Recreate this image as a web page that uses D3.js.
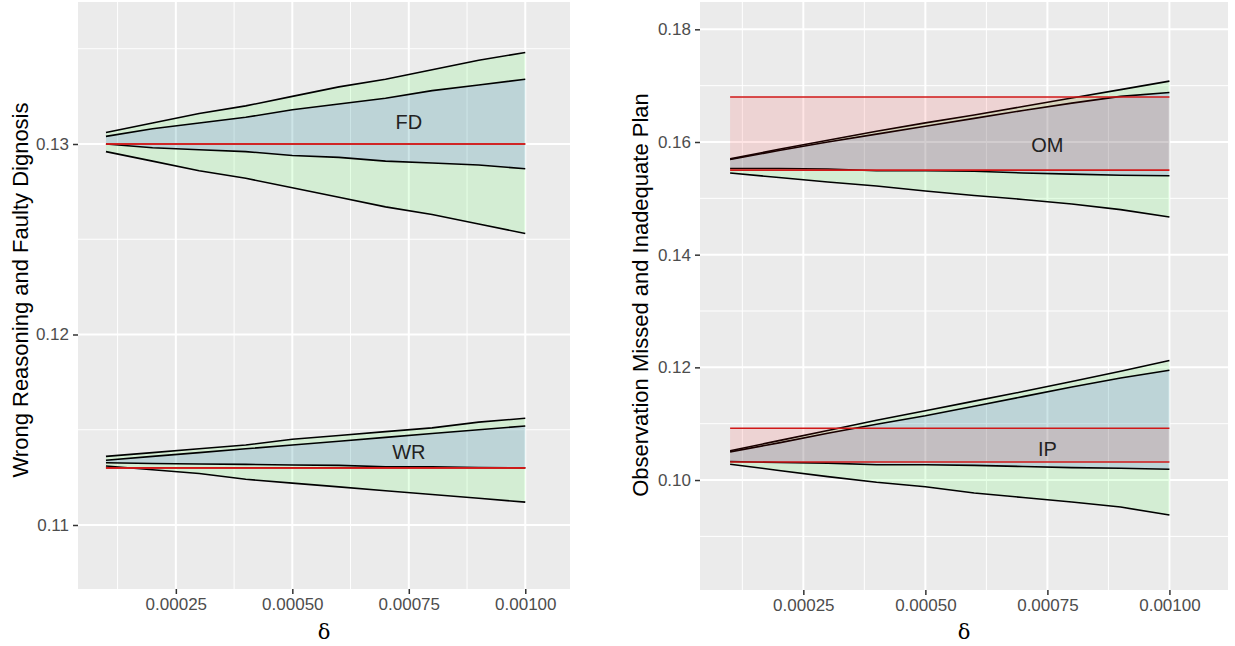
<!DOCTYPE html>
<html>
<head>
<meta charset="utf-8">
<script src="https://d3js.org/d3.v7.min.js"></script>
<style>
  body { margin: 0; background: #fff; }
  text { font-family: "Liberation Sans", Arial, sans-serif; }
</style>
</head>
<body>
<svg id="chart" width="1235" height="646"></svg>
<script>
// delta grid shared by every band
const deltas = [0.0001, 0.0002, 0.0003, 0.0004, 0.0005, 0.0006, 0.0007, 0.0008, 0.0009, 0.0010];

// FD - faulty diagnosis
const fdOuterHi = [0.1306, 0.1311, 0.1316, 0.1320, 0.1325, 0.1330, 0.1334, 0.1339, 0.1344, 0.1348];
const fdInnerHi = [0.1304, 0.1308, 0.1311, 0.1314, 0.1318, 0.1321, 0.1324, 0.1328, 0.1331, 0.1334];
const fdInnerLo = [0.1300, 0.1298, 0.1297, 0.1296, 0.1294, 0.1293, 0.1291, 0.1290, 0.1289, 0.1287];
const fdOuterLo = [0.1296, 0.1291, 0.1286, 0.1282, 0.1277, 0.1272, 0.1267, 0.1263, 0.1258, 0.1253];
const fdRed = [0.1300, 0.1300];

// WR - wrong reasoning
const wrOuterHi = [0.1136, 0.1138, 0.1140, 0.1142, 0.1145, 0.1147, 0.1149, 0.1151, 0.1154, 0.1156];
const wrInnerHi = [0.1134, 0.1136, 0.1138, 0.1140, 0.1142, 0.1144, 0.1146, 0.1148, 0.1150, 0.1152];
const wrInnerLo = [0.11327, 0.11323, 0.11320, 0.11318, 0.11315, 0.11313, 0.11306, 0.11306, 0.11302, 0.11300];
const wrOuterLo = [0.1131, 0.1129, 0.1127, 0.1124, 0.1122, 0.1120, 0.1118, 0.1116, 0.1114, 0.1112];
const wrRed = [0.1130, 0.1130];

// OM - observation missed
const omOuterHi = [0.1570, 0.1587, 0.1603, 0.1619, 0.1634, 0.1648, 0.1663, 0.1678, 0.1693, 0.1708];
const omInnerHi = [0.1569, 0.1585, 0.1600, 0.1614, 0.1628, 0.1642, 0.1656, 0.1669, 0.1681, 0.1688];
const omInnerLo = [0.1553, 0.1553, 0.1552, 0.1549, 0.1549, 0.1548, 0.1545, 0.1543, 0.1541, 0.1540];
const omOuterLo = [0.1545, 0.1537, 0.1529, 0.1522, 0.1513, 0.1505, 0.1498, 0.1490, 0.1480, 0.1467];
const omRed = [0.1550, 0.1680];

// IP - inadequate plan
const ipOuterHi = [0.1052, 0.1070, 0.1088, 0.1106, 0.1123, 0.1140, 0.1157, 0.1175, 0.1193, 0.1212];
const ipInnerHi = [0.1050, 0.1066, 0.1083, 0.1099, 0.1114, 0.1131, 0.1148, 0.1165, 0.1181, 0.1195];
const ipInnerLo = [0.1033, 0.1031, 0.1030, 0.1027, 0.1027, 0.1026, 0.1024, 0.1022, 0.1021, 0.1019];
const ipOuterLo = [0.1028, 0.1017, 0.1006, 0.0996, 0.0988, 0.0977, 0.0969, 0.0961, 0.0952, 0.0938];
const ipRed = [0.1032, 0.1092];

// labels: [text, delta, value]
const leftLabels = [["FD", 0.00075, 0.13117], ["WR", 0.00075, 0.11385]];
const rightLabels = [["OM", 0.00075, 0.1595], ["IP", 0.00075, 0.1056]];

// ticks
const xMajor = [0.00025, 0.0005, 0.00075, 0.001];
const xMinor = [0.000125, 0.000375, 0.000625, 0.000875];
const leftYMajor = [0.11, 0.12, 0.13];
const leftYMinor = [0.115, 0.125, 0.135];
const rightYMajor = [0.10, 0.12, 0.14, 0.16, 0.18];
const rightYMinor = [0.09, 0.11, 0.13, 0.15, 0.17];

const leftTitle = "Wrong Reasoning and Faulty Dignosis";
const rightTitle = "Observation Missed and Inadequate Plan";

const svg = d3.select("#chart");

function band(hi, lo) {
  return deltas.map((d, i) => ({ d: d, hi: hi[i], lo: lo[i] }));
}
function flat(pair) {
  return [deltas[0], deltas[deltas.length - 1]].map(d => ({ d: d, lo: pair[0], hi: pair[1] }));
}

function drawPanel(p) {
  const x = d3.scaleLinear().domain(p.xDom).range(p.xRange);
  const y = d3.scaleLinear().domain(p.yDom).range(p.yRange);
  const g = svg.append("g");

  g.append("rect")
    .attr("x", p.xRange[0]).attr("y", p.yRange[1])
    .attr("width", p.xRange[1] - p.xRange[0])
    .attr("height", p.yRange[0] - p.yRange[1])
    .attr("fill", "#ebebeb");

  // grid
  g.selectAll(".vminor").data(xMinor).enter().append("line")
    .attr("x1", d => x(d)).attr("x2", d => x(d))
    .attr("y1", p.yRange[1]).attr("y2", p.yRange[0])
    .attr("stroke", "#fff").attr("stroke-width", 1);
  g.selectAll(".hminor").data(p.yMinor).enter().append("line")
    .attr("y1", d => y(d)).attr("y2", d => y(d))
    .attr("x1", p.xRange[0]).attr("x2", p.xRange[1])
    .attr("stroke", "#fff").attr("stroke-width", 1);
  g.selectAll(".vmajor").data(xMajor).enter().append("line")
    .attr("x1", d => x(d)).attr("x2", d => x(d))
    .attr("y1", p.yRange[1]).attr("y2", p.yRange[0])
    .attr("stroke", "#fff").attr("stroke-width", 2);
  g.selectAll(".hmajor").data(p.yMajor).enter().append("line")
    .attr("y1", d => y(d)).attr("y2", d => y(d))
    .attr("x1", p.xRange[0]).attr("x2", p.xRange[1])
    .attr("stroke", "#fff").attr("stroke-width", 2);

  const area = d3.area().x(d => x(d.d)).y0(d => y(d.lo)).y1(d => y(d.hi));
  const lineHi = d3.line().x(d => x(d.d)).y(d => y(d.hi));
  const lineLo = d3.line().x(d => x(d.d)).y(d => y(d.lo));

  p.groups.forEach(grp => {
    const layers = [
      { data: band(grp.outerHi, grp.outerLo), fill: "#00ff00", stroke: "#000" },
      { data: band(grp.innerHi, grp.innerLo), fill: "#0000ff", stroke: "#000" },
      { data: flat(grp.red), fill: "#ff0000", stroke: "#d01818" }
    ];
    layers.forEach(l => {
      g.append("path").attr("d", area(l.data))
        .attr("fill", l.fill).attr("fill-opacity", 0.1);
      g.append("path").attr("d", lineHi(l.data))
        .attr("fill", "none").attr("stroke", l.stroke).attr("stroke-width", 1.6);
      g.append("path").attr("d", lineLo(l.data))
        .attr("fill", "none").attr("stroke", l.stroke).attr("stroke-width", 1.6);
    });
  });

  g.selectAll(".lab").data(p.labels).enter().append("text")
    .attr("x", d => x(d[1])).attr("y", d => y(d[2]))
    .attr("text-anchor", "middle").attr("dy", "0.36em")
    .attr("font-size", 20).attr("fill", "#222")
    .text(d => d[0]);

  // axes
  const xAxis = g.append("g")
    .attr("transform", "translate(0," + p.yRange[0] + ")")
    .call(d3.axisBottom(x).tickValues(xMajor).tickFormat(d3.format(".5f"))
      .tickSizeInner(5).tickSizeOuter(0).tickPadding(4));
  const yAxis = g.append("g")
    .attr("transform", "translate(" + p.xRange[0] + ",0)")
    .call(d3.axisLeft(y).tickValues(p.yMajor).tickFormat(d3.format(".2f"))
      .tickSizeInner(5).tickSizeOuter(0).tickPadding(4));
  [xAxis, yAxis].forEach(a => {
    a.select(".domain").remove();
    a.selectAll(".tick line").attr("stroke", "#333").attr("stroke-width", 1.5);
    a.selectAll(".tick text").attr("fill", "#4d4d4d")
      .style("font-size", "17px").style("font-family", "'Liberation Sans', Arial, sans-serif");
  });

  g.append("text")
    .attr("x", (p.xRange[0] + p.xRange[1]) / 2).attr("y", 639)
    .attr("text-anchor", "middle").attr("font-size", 21).attr("fill", "#000")
    .style("font-family", "'DejaVu Serif', serif")
    .text("δ");

  g.append("text")
    .attr("transform", "translate(" + p.titleX + "," + p.titleY + ") rotate(-90)")
    .attr("text-anchor", "middle").attr("font-size", 22).attr("fill", "#000")
    .text(p.title);
}

drawPanel({
  xDom: [0.00004, 0.001096], xRange: [78, 570],
  yDom: [0.10664, 0.137454], yRange: [589, 2],
  yMajor: leftYMajor, yMinor: leftYMinor,
  title: leftTitle, titleX: 28, titleY: 290, labels: leftLabels,
  groups: [
    { outerHi: fdOuterHi, innerHi: fdInnerHi, innerLo: fdInnerLo, outerLo: fdOuterLo, red: fdRed },
    { outerHi: wrOuterHi, innerHi: wrInnerHi, innerLo: wrInnerLo, outerLo: wrOuterLo, red: wrRed }
  ]
});

drawPanel({
  xDom: [0.0000383, 0.00112], xRange: [700, 1228],
  yDom: [0.08048, 0.18485], yRange: [590, 2],
  yMajor: rightYMajor, yMinor: rightYMinor,
  title: rightTitle, titleX: 648, titleY: 295, labels: rightLabels,
  groups: [
    { outerHi: omOuterHi, innerHi: omInnerHi, innerLo: omInnerLo, outerLo: omOuterLo, red: omRed },
    { outerHi: ipOuterHi, innerHi: ipInnerHi, innerLo: ipInnerLo, outerLo: ipOuterLo, red: ipRed }
  ]
});
</script>
</body>
</html>
